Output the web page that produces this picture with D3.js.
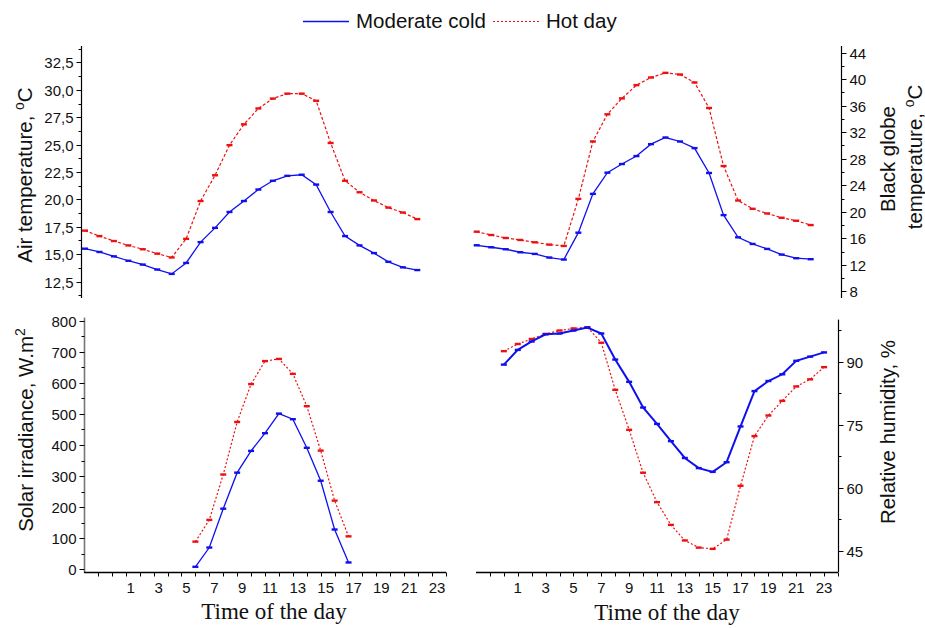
<!DOCTYPE html>
<html>
<head>
<meta charset="utf-8">
<script src="https://cdn.jsdelivr.net/npm/d3@7"></script>
<style>
  html, body { margin: 0; padding: 0; background: #fff; }
  svg { display: block; font-family: "Liberation Sans", Arial, sans-serif; }
</style>
</head>
<body>
<svg id="chart" width="925" height="628"></svg>
<script>
// ---------------- data ----------------
const hours = [0,1,2,3,4,5,6,7,8,9,10,11,12,13,14,15,16,17,18,19,20,21,22,23];
const airCold = [15.5,15.2,14.8,14.4,14.05,13.6,13.2,14.2,16.1,17.4,18.85,19.85,20.9,21.7,22.15,22.25,21.35,18.85,16.65,15.8,15.1,14.3,13.8,13.55];
const airHot  = [17.15,16.65,16.2,15.8,15.45,15.05,14.7,16.4,19.85,22.2,24.95,26.85,28.3,29.2,29.65,29.65,29.0,25.15,21.7,20.65,19.9,19.25,18.8,18.2];
const globeCold = [14.95,14.65,14.35,13.9,13.65,13.1,12.8,16.85,22.7,25.9,27.2,28.4,30.2,31.2,30.6,29.6,25.85,19.5,16.15,15.15,14.4,13.55,13.0,12.85];
const globeHot  = [17.0,16.5,16.05,15.75,15.4,15.05,14.85,21.95,30.6,34.7,37.1,39.1,40.25,40.95,40.7,39.5,35.65,26.9,21.7,20.45,19.75,19.1,18.65,18.0];
const solarHours = [6,7,8,9,10,11,12,13,14,15,16,17];
const solarCold = [8,70,195,311,381,438,501,483,391,285,128,22];
const solarHot  = [89,159,305,474,596,670,677,629,525,382,221,106];
const rhCold = [89.3,92.8,94.8,96.5,96.7,97.4,98.1,96.7,90.5,85.2,79.1,75.2,71.1,67.1,64.7,63.8,66.1,74.6,83.0,85.4,87.0,90.2,91.2,92.2];
const rhHot  = [92.5,94.2,95.4,96.6,97.4,97.9,98.2,94.5,83.3,73.8,63.6,56.6,51.2,47.5,45.8,45.5,47.7,60.5,72.3,77.2,80.7,84.1,85.8,88.7];

const airTicks = [12.5,15,17.5,20,22.5,25,27.5,30,32.5];
const globeTicks = [8,12,16,20,24,28,32,36,40,44];
const solarTicks = [0,100,200,300,400,500,600,700,800];
const rhTicks = [45,60,75,90];
const hourTickLabels = [1,3,5,7,9,11,13,15,17,19,21,23];
const hourTicks = [-1,0,1,2,3,4,5,6,7,8,9,10,11,12,13,14,15,16,17,18,19,20,21,22,23,24];

const seriesNames = ["Moderate cold", "Hot day"];
const blue = "#1010ee", red = "#ee1010";

// ---------------- drawing ----------------
const svg = d3.select("#chart");
const commaFmt = v => d3.format(".1f")(v).replace(".", ",");

function midpoints(t) {
  const out = [];
  const step = t[1] - t[0];
  out.push(t[0] - step / 2);
  for (let i = 0; i < t.length - 1; i++) out.push((t[i] + t[i+1]) / 2);
  out.push(t[t.length-1] + step / 2);
  return out;
}

function yAxis(y, x0, side, ticks, fmt, color) {
  const g = svg.append("g");
  const [r0, r1] = y.range();
  const dir = side === "left" ? -1 : 1;
  g.append("line").attr("x1", x0).attr("x2", x0).attr("y1", r0).attr("y2", r1)
    .attr("stroke", color || "#000").attr("stroke-width", color ? 1.6 : 1.2);
  const dom = y.domain();
  const lo = Math.min(...dom), hi = Math.max(...dom);
  midpoints(ticks).filter(v => v >= lo && v <= hi).forEach(v => {
    g.append("line").attr("x1", x0).attr("x2", x0 + dir * 3)
      .attr("y1", Math.round(y(v)) + 0.5).attr("y2", Math.round(y(v)) + 0.5)
      .attr("stroke", "#000").attr("stroke-width", 1);
  });
  ticks.forEach(v => {
    const yy = Math.round(y(v)) + 0.5;
    g.append("line").attr("x1", x0).attr("x2", x0 + dir * 5).attr("y1", yy).attr("y2", yy)
      .attr("stroke", "#000").attr("stroke-width", 1);
    g.append("text").attr("x", x0 + dir * 8).attr("y", yy).attr("dy", "0.36em")
      .attr("text-anchor", side === "left" ? "end" : "start")
      .attr("font-size", 15).attr("fill", "#111").text(fmt(v));
  });
}

function xAxis(x, y0, labelDx) {
  const g = svg.append("g");
  const [r0, r1] = x.range();
  g.append("line").attr("x1", r0).attr("x2", r1).attr("y1", y0).attr("y2", y0)
    .attr("stroke", "#000").attr("stroke-width", 1.4);
  hourTicks.forEach(h => {
    const xx = Math.round(x(h)) + 0.5;
    g.append("line").attr("x1", xx).attr("x2", xx).attr("y1", y0).attr("y2", y0 + 4)
      .attr("stroke", "#000").attr("stroke-width", 1);
  });
  hourTickLabels.forEach(h => {
    g.append("text").attr("x", x(h) + labelDx).attr("y", y0 + 20)
      .attr("text-anchor", "middle").attr("font-size", 15).attr("fill", "#111").text(h);
  });
}

function series(x, y, xs, ys, color, dash, width) {
  const line = d3.line().x((d, i) => x(xs[i])).y(d => y(d));
  svg.append("path").datum(ys).attr("d", line).attr("fill", "none")
    .attr("stroke", color).attr("stroke-width", width)
    .attr("stroke-dasharray", dash || null);
  svg.append("g").selectAll("rect").data(ys).join("rect")
    .attr("x", (d, i) => x(xs[i]) - 3).attr("y", d => y(d) - 1.2)
    .attr("width", 6).attr("height", 2.4).attr("fill", color);
}

function supLabel(x, y, rot, parts, size, anchor) {
  const t = svg.append("text").attr("transform", `translate(${x},${y}) rotate(${rot})`)
    .attr("text-anchor", anchor || "middle").attr("font-size", size).attr("fill", "#111");
  parts.forEach(p => {
    const s = t.append("tspan").text(p.t);
    if (p.sup) s.attr("font-size", size * 0.68).attr("dy", -size * 0.38);
    if (p.down) s.attr("dy", size * 0.38);
  });
  return t;
}

// ---- Top-left: Air temperature ----
const xTL = d3.scaleLinear().domain([0, 23]).range([85, 417.3]);
const yTL = d3.scaleLinear().domain([11, 34]).range([298, 46]);
yAxis(yTL, 81.5, "left", airTicks, commaFmt);
series(xTL, yTL, hours, airHot, red, "3,2", 1.2);
series(xTL, yTL, hours, airCold, blue, null, 1.3);
supLabel(32, 175, -90, [{t: "Air temperature, "}, {t: "o", sup: true}, {t: "C", down: true}], 20.5);

// ---- Top-right: Black globe temperature ----
const xTR = d3.scaleLinear().domain([0, 23]).range([476.7, 810.7]);
const yTR = d3.scaleLinear().domain([7, 45]).range([298, 46]);
yAxis(yTR, 841.5, "right", globeTicks, d => d);
series(xTR, yTR, hours, globeHot, red, "3,2", 1.2);
series(xTR, yTR, hours, globeCold, blue, null, 1.3);
supLabel(895, 159, -90, [{t: "Black globe"}], 20.5);
supLabel(922, 157, -90, [{t: "temperature, "}, {t: "o", sup: true}, {t: "C", down: true}], 20.5);

// ---- Bottom-left: Solar irradiance ----
const xBL = d3.scaleLinear().domain([-2, 24]).range([84, 446]);
const yBL = d3.scaleLinear().domain([-10, 810]).range([572.4, 317.6]);
yAxis(yBL, 84.5, "left", solarTicks, d => d, "#777");
xAxis(xBL, 572.5, 5);
series(xBL, yBL, solarHours, solarHot, red, "2,2", 1.2);
series(xBL, yBL, solarHours, solarCold, blue, null, 1.3);
supLabel(33, 430, -90, [{t: "Solar irradiance, W.m"}, {t: "2", sup: true}], 20.5);
svg.append("text").attr("x", 274).attr("y", 619).attr("text-anchor", "middle")
  .attr("font-family", "'Liberation Serif', 'Times New Roman', serif").attr("font-size", 23)
  .attr("fill", "#111").text("Time of the day");

// ---- Bottom-right: Relative humidity ----
const xBR = d3.scaleLinear().domain([-2, 24]).range([476, 838]);
const yBR = d3.scaleLinear().domain([40, 100]).range([572, 319.6]);
yAxis(yBR, 838.5, "right", rhTicks, d => d);
xAxis(xBR, 572.5, 0);
series(xBR, yBR, hours, rhHot, red, "2,2", 1.2);
series(xBR, yBR, hours, rhCold, blue, null, 2);
supLabel(895, 432, -90, [{t: "Relative humidity, %"}], 20.5);
svg.append("text").attr("x", 667).attr("y", 620).attr("text-anchor", "middle")
  .attr("font-family", "'Liberation Serif', 'Times New Roman', serif").attr("font-size", 23)
  .attr("fill", "#111").text("Time of the day");

// ---- Legend ----
const lg = svg.append("g");
lg.append("line").attr("x1", 303).attr("x2", 349).attr("y1", 21.5).attr("y2", 21.5)
  .attr("stroke", blue).attr("stroke-width", 1.3);
lg.append("text").attr("x", 356).attr("y", 28).attr("font-size", 20.5).attr("fill", "#111").text(seriesNames[0]);
lg.append("line").attr("x1", 493).attr("x2", 539).attr("y1", 21.5).attr("y2", 21.5)
  .attr("stroke", red).attr("stroke-width", 1.2).attr("stroke-dasharray", "2,2");
lg.append("text").attr("x", 546).attr("y", 28).attr("font-size", 20.5).attr("fill", "#111").text(seriesNames[1]);
</script>
</body>
</html>
